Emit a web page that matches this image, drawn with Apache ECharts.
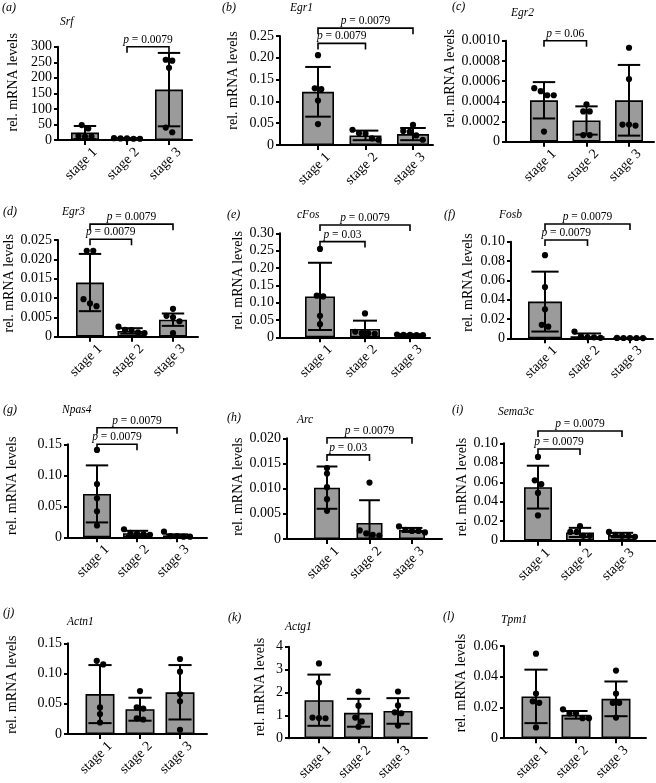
<!DOCTYPE html>
<html><head><meta charset="utf-8">
<script src="https://cdn.jsdelivr.net/npm/echarts@6/dist/echarts.min.js"></script>
<style>html,body{margin:0;padding:0;background:#fff}#c{width:656px;height:783px}</style>
</head><body><div id="c"></div>
<script>
const FONT = '"Liberation Serif", "Times New Roman", "DejaVu Serif", serif';
const categories = ['stage 1', 'stage 2', 'stage 3'];
const panelLabels = ['(a)','(b)','(c)','(d)','(e)','(f)','(g)','(h)','(i)','(j)','(k)','(l)'];
const geneNames = ['Srf','Egr1','Egr2','Egr3','cFos','Fosb','Npas4','Arc','Sema3c','Actn1','Actg1','Tpm1'];
const yMaxValues = [300, 0.25, 0.001, 0.025, 0.30, 0.10, 0.15, 0.020, 0.10, 0.15, 4, 0.06];
const yIntervals = [50, 0.05, 0.0002, 0.005, 0.05, 0.02, 0.05, 0.005, 0.02, 0.05, 1, 0.02];
const yDecimals = [0, 2, 4, 3, 2, 2, 2, 3, 2, 2, 0, 2];

// mean, SD, individual points (stage 1, 2, 3); brackets: [from, y, to, p]
const srfMean = [24, 5, 162];
const srfSD = [21, 1, 118];
const srfPoints = [[48, 37, 13, 11, 11], [6, 5, 5, 4, 4], [258, 255, 232, 40, 25]];
const srfBrackets = [[1, 300, 2, '0.0079']];

const egr1Mean = [0.122, 0.022, 0.025];
const egr1SD = [0.057, 0.011, 0.014];
const egr1Points = [[0.206, 0.128, 0.130, 0.102, 0.048], [0.035, 0.027, 0.026, 0.015, 0.012], [0.046, 0.032, 0.030, 0.022, 0.012]];
const egr1Brackets = [[0, 0.233, 1, '0.0079'], [0, 0.268, 2, '0.0079']];

const egr2Mean = [0.00041, 0.00021, 0.00041];
const egr2SD = [0.00018, 0.00014, 0.00035];
const egr2Points = [[0.00053, 0.00046, 0.00046, 0.00050, 0.00010], [0.00037, 0.00030, 0.00030, 0.000066, 0.000066], [0.00093, 0.00062, 0.00017, 0.00016, 0.00017]];
const egr2Brackets = [[0, 0.001, 1, '0.06']];

const egr3Mean = [0.0140, 0.0015, 0.0044];
const egr3SD = [0.0074, 0.0007, 0.0016];
const egr3Points = [[0.0222, 0.0222, 0.0097, 0.0086, 0.0079], [0.0026, 0.0018, 0.0017, 0.0011, 0.0009], [0.0072, 0.0054, 0.0050, 0.0040, 0.0009]];
const egr3Brackets = [[0, 0.0252, 1, '0.0079'], [0, 0.0291, 2, '0.0079']];

const cfosMean = [0.118, 0.024, 0.007];
const cfosSD = [0.097, 0.024, 0.002];
const cfosPoints = [[0.255, 0.120, 0.118, 0.062, 0.038], [0.069, 0.016, 0.012, 0.010, 0.012], [0.008, 0.007, 0.007, 0.006, 0.006]];
const cfosBrackets = [[0, 0.276, 1, '0.03'], [0, 0.324, 2, '0.0079']];

const fosbMean = [0.038, 0.002, 0.0003];
const fosbSD = [0.031, 0.003, 0.0002];
const fosbPoints = [[0.086, 0.053, 0.030, 0.014, 0.012], [0.007, 0.002, 0.001, 0.001, 0.0005], [0.0004, 0.0003, 0.0003, 0.0002, 0.0003]];
const fosbBrackets = [[0, 0.1018, 1, '0.0079'], [0, 0.1183, 2, '0.0079']];

const npas4Mean = [0.070, 0.0065, 0.003];
const npas4SD = [0.046, 0.004, 0.0018];
const npas4Points = [[0.141, 0.086, 0.063, 0.042, 0.019], [0.013, 0.007, 0.006, 0.005, 0.004], [0.009, 0.002, 0.002, 0.001, 0.001]];
const npas4Brackets = [[0, 0.150, 1, '0.0079'], [0, 0.1768, 2, '0.0079']];

const arcMean = [0.0102, 0.0032, 0.0018];
const arcSD = [0.0042, 0.0045, 0.0004];
const arcPoints = [[0.0141, 0.0130, 0.0103, 0.0079, 0.0056], [0.0112, 0.0017, 0.0011, 0.0008, 0.0007], [0.0025, 0.0018, 0.0016, 0.0016, 0.0013]];
const arcBrackets = [[0, 0.0167, 1, '0.03'], [0, 0.0201, 2, '0.0079']];

const sema3cMean = [0.055, 0.0085, 0.0058];
const sema3cSD = [0.022, 0.0047, 0.0023];
const sema3cPoints = [[0.086, 0.062, 0.058, 0.049, 0.026], [0.015, 0.009, 0.009, 0.005, 0.005], [0.009, 0.006, 0.005, 0.005, 0.004]];
const sema3cBrackets = [[0, 0.0941, 1, '0.0079'], [0, 0.1126, 2, '0.0079']];

const actn1Mean = [0.066, 0.041, 0.069];
const actn1SD = [0.048, 0.019, 0.045];
const actn1Points = [[0.121, 0.115, 0.044, 0.033, 0.019], [0.071, 0.044, 0.042, 0.026, 0.024], [0.124, 0.103, 0.066, 0.054, 0.007]];
const actn1Brackets = [];

const actg1Mean = [1.66, 1.11, 1.19];
const actg1SD = [1.12, 0.61, 0.56];
const actg1Points = [[3.27, 2.43, 0.90, 0.88, 0.87], [2.04, 1.42, 0.90, 0.73, 0.50], [2.04, 1.43, 1.13, 1.09, 0.55]];
const actg1Brackets = [];

const tpm1Mean = [0.0272, 0.0152, 0.0256];
const tpm1SD = [0.0174, 0.0025, 0.0113];
const tpm1Points = [[0.055, 0.029, 0.024, 0.023, 0.007], [0.0188, 0.0162, 0.0162, 0.013, 0.013], [0.044, 0.029, 0.023, 0.023, 0.0134]];
const tpm1Brackets = [];

const meanList = [srfMean, egr1Mean, egr2Mean, egr3Mean, cfosMean, fosbMean, npas4Mean, arcMean, sema3cMean, actn1Mean, actg1Mean, tpm1Mean];
const sdList = [srfSD, egr1SD, egr2SD, egr3SD, cfosSD, fosbSD, npas4SD, arcSD, sema3cSD, actn1SD, actg1SD, tpm1SD];
const pointList = [srfPoints, egr1Points, egr2Points, egr3Points, cfosPoints, fosbPoints, npas4Points, arcPoints, sema3cPoints, actn1Points, actg1Points, tpm1Points];
const bracketList = [srfBrackets, egr1Brackets, egr2Brackets, egr3Brackets, cfosBrackets, fosbBrackets, npas4Brackets, arcBrackets, sema3cBrackets, actn1Brackets, actg1Brackets, tpm1Brackets];

// layout (pixels): axisX, axisEndX, firstCenterX, lastCenterX, yTop, yBottom, barWidth, nameGap, namePad, letterX, letterY, titleX, titleY
const layout = [
  [58, 192, 85, 169, 46.7, 140, 28, 38, 22, 2, 8, 60, 22],
  [280, 433, 318, 413, 36, 145, 32, 40, 20, 222, 8, 290, 8],
  [506, 654, 544, 629, 40.7, 141.7, 28, 48, 26, 452, 7, 511, 13],
  [58, 198, 90, 173, 240, 336.7, 28, 41, 10, 3, 212, 62, 212],
  [280, 430, 320, 410, 233.3, 337.3, 30, 33, 10, 227, 215, 297, 215],
  [511, 653, 545, 630, 241.7, 338.3, 34, 36, 15, 444, 215, 499, 215],
  [68, 207, 97, 177, 444.3, 537.3, 28, 49, 10, 3, 410, 62, 410],
  [287, 442, 327, 412, 438.3, 539, 26, 38, 4, 227, 418, 297, 420],
  [504, 656, 538, 622, 443.3, 540.7, 28, 29, 10, 452, 410, 498, 412],
  [68, 207, 100, 180, 643.3, 734, 29, 49, 8, 3, 613, 67, 622],
  [289, 427, 319, 398, 646.7, 738.3, 29, 22, 11, 228, 618, 285, 627],
  [504, 646, 536, 616, 646, 738.3, 29, 36, 18, 443, 617, 501, 620]
];

const LABEL_SHIFT = 10;
const SPACING = 6.5, THRESH = 5, DOT_R = 3.1;

function swarm(ys) {
  const order = ys.map((y, i) => i).sort((a, b) => ys[a] - ys[b]);
  const offs = new Array(ys.length).fill(0);
  let cluster = [order[0]];
  const flush = () => { const n = cluster.length; cluster.forEach((id, k) => { offs[id] = (k - (n - 1) / 2) * SPACING; }); };
  for (let j = 1; j < order.length; j++) {
    const id = order[j], prev = order[j - 1];
    if (ys[id] - ys[prev] < THRESH) cluster.push(id); else { flush(); cluster = [id]; }
  }
  flush();
  return offs;
}

const chart = echarts.init(document.getElementById('c'), null, {renderer: 'canvas'});
const option = {animation: false, textStyle: {fontFamily: FONT}, title: [], grid: [], xAxis: [], yAxis: [], series: []};
const black = '#000';

geneNames.forEach((gene, i) => {
  const [x0, x1, c0, c2, yt, yb, barW, nameGap, namePad, lx, ly, tx, ty] = layout[i];
  const u = (c2 - c0) / 2;
  const xmin = -(c0 - x0) / u, xmax = 2 + (x1 - c2) / u;
  const dec = yDecimals[i];
  const pts = pointList[i];
  const brs = bracketList[i];
  const capW = barW * 0.8;

  option.title.push({text: panelLabels[i], left: lx, top: ly - 7, padding: 0,
    textStyle: {fontSize: 12, fontStyle: 'italic', fontWeight: 'normal', fontFamily: FONT, color: black, lineHeight: 14}});
  option.title.push({text: gene, left: tx, top: ty - 7, padding: 0,
    textStyle: {fontSize: 11.5, fontStyle: 'italic', fontWeight: 'normal', fontFamily: FONT, color: black, lineHeight: 14}});

  option.grid.push({left: x0, top: yt, width: x1 - x0, height: yb - yt});
  option.xAxis.push({
    type: 'value', gridIndex: i, min: xmin, max: xmax,
    splitLine: {show: false},
    axisLine: {show: true, onZero: false, lineStyle: {color: black, width: 2}},
    axisTick: {show: true, customValues: [0, 1, 2], length: 5, lineStyle: {color: black, width: 2}},
    axisLabel: {customValues: [0, 1, 2].map(v => v + LABEL_SHIFT / u), rotate: 45, margin: 10,
      formatter: (v) => categories[Math.round(v - LABEL_SHIFT / u)], fontSize: 14, color: black, fontFamily: FONT}
  });
  option.yAxis.push({
    type: 'value', gridIndex: i, min: 0, max: yMaxValues[i], interval: yIntervals[i],
    splitLine: {show: false},
    axisLine: {show: true, onZero: false, lineStyle: {color: black, width: 2}},
    axisTick: {show: true, length: 4, lineStyle: {color: black, width: 2}},
    axisLabel: {fontSize: 14, color: black, margin: 6, fontFamily: FONT,
      formatter: (v) => (Math.abs(v) < 1e-12 ? '0' : v.toFixed(dec))},
    name: 'rel. mRNA levels', nameLocation: 'middle', nameRotate: 90, nameGap: nameGap,
    nameTextStyle: {fontSize: 14, color: black, fontFamily: FONT, padding: [0, 0, 0, namePad]}
  });

  option.series.push({
    type: 'bar', xAxisIndex: i, yAxisIndex: i, barWidth: barW, silent: true, z: 2,
    data: meanList[i].map((m, k) => [k, m]),
    itemStyle: {color: '#9b9b9b', borderColor: black, borderWidth: 1.6}
  });

  option.series.push({
    type: 'custom', xAxisIndex: i, yAxisIndex: i, silent: true, z: 3, clip: false,
    data: meanList[i].map((m, k) => [k, m, sdList[i][k]]),
    renderItem: (params, api) => {
      const cat = api.value(0), m = api.value(1), s = api.value(2);
      const lowV = m - s;
      const top = api.coord([cat, m + s]);
      const bot = api.coord([cat, Math.max(0, lowV)]);
      const hw = capW / 2;
      const st = {stroke: black, lineWidth: 2};
      const children = [
        {type: 'line', shape: {x1: top[0], y1: top[1], x2: bot[0], y2: bot[1]}, style: st},
        {type: 'line', shape: {x1: top[0] - hw, y1: top[1], x2: top[0] + hw, y2: top[1]}, style: st}
      ];
      if (lowV > 0) children.push({type: 'line', shape: {x1: bot[0] - hw, y1: bot[1], x2: bot[0] + hw, y2: bot[1]}, style: st});
      return {type: 'group', children};
    }
  });

  const ptData = [];
  pts.forEach((arr, k) => arr.forEach((v, j) => ptData.push([k, v, j])));
  option.series.push({
    type: 'custom', xAxisIndex: i, yAxisIndex: i, silent: true, z: 4, clip: false,
    data: ptData,
    renderItem: (params, api) => {
      const cat = api.value(0), j = api.value(2);
      const ys = pts[cat].map(v => api.coord([cat, v])[1]);
      const offs = swarm(ys);
      const c = api.coord([cat, api.value(1)]);
      return {type: 'circle', shape: {cx: c[0] + offs[j], cy: c[1], r: DOT_R}, style: {fill: black}};
    }
  });

  if (brs.length) {
    option.series.push({
      type: 'custom', xAxisIndex: i, yAxisIndex: i, silent: true, z: 5, clip: false,
      data: brs.map((b, k) => [b[0], b[1], b[2], k]),
      renderItem: (params, api) => {
        const b = brs[api.value(3)];
        const p1 = api.coord([api.value(0), api.value(1)]);
        const p2 = api.coord([api.value(2), api.value(1)]);
        const leg = 6;
        return {type: 'group', children: [
          {type: 'polyline', shape: {points: [[p1[0], p1[1] + leg], [p1[0], p1[1]], [p2[0], p2[1]], [p2[0], p2[1] + leg]]},
            style: {stroke: black, lineWidth: 1.6, fill: null}},
          {type: 'text', x: (p1[0] + p2[0]) / 2, y: p1[1] - 1,
            style: {text: '{i|p} = ' + b[3], align: 'center', verticalAlign: 'bottom',
              fontFamily: FONT, fontSize: 11.5, fill: black,
              rich: {i: {fontStyle: 'italic', fontFamily: FONT, fontSize: 11.5, fill: black}}}}
        ]};
      }
    });
  }
});

chart.setOption(option);
</script>
</body></html>
